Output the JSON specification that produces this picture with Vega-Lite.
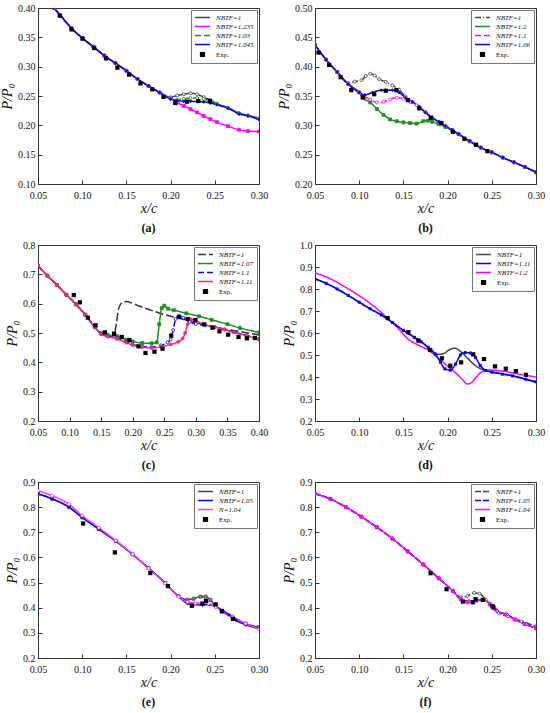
{
  "$schema": "https://vega.github.io/schema/vega-lite/v6.json",
  "background": "white",
  "padding": {"left": 0, "top": 2, "right": 4, "bottom": 2},
  "columns": 2,
  "spacing": {"row": 4, "column": 8},
  "datasets": {
    "a": [
      {"s": "NBTF=1", "x": 0.068, "y": 0.4}, {"s": "NBTF=1", "x": 0.075, "y": 0.388}, {"s": "NBTF=1", "x": 0.0875, "y": 0.366}, {"s": "NBTF=1", "x": 0.1, "y": 0.349}, {"s": "NBTF=1", "x": 0.1125, "y": 0.334}, {"s": "NBTF=1", "x": 0.125, "y": 0.319}, {"s": "NBTF=1", "x": 0.1375, "y": 0.306}, {"s": "NBTF=1", "x": 0.15, "y": 0.293}, {"s": "NBTF=1", "x": 0.1625, "y": 0.279}, {"s": "NBTF=1", "x": 0.175, "y": 0.267}, {"s": "NBTF=1", "x": 0.1875, "y": 0.256}, {"s": "NBTF=1", "x": 0.2, "y": 0.248},
      {"s": "NBTF=1", "x": 0.2075, "y": 0.251}, {"s": "NBTF=1", "x": 0.215, "y": 0.253}, {"s": "NBTF=1", "x": 0.2225, "y": 0.2545}, {"s": "NBTF=1", "x": 0.23, "y": 0.253}, {"s": "NBTF=1", "x": 0.2375, "y": 0.248}, {"s": "NBTF=1", "x": 0.245, "y": 0.243}, {"s": "NBTF=1", "x": 0.2525, "y": 0.237}, {"s": "NBTF=1", "x": 0.265, "y": 0.23}, {"s": "NBTF=1", "x": 0.2775, "y": 0.221}, {"s": "NBTF=1", "x": 0.2875, "y": 0.217}, {"s": "NBTF=1", "x": 0.3, "y": 0.212},
      {"s": "NBTF=1.235", "x": 0.068, "y": 0.4}, {"s": "NBTF=1.235", "x": 0.075, "y": 0.388}, {"s": "NBTF=1.235", "x": 0.0875, "y": 0.366}, {"s": "NBTF=1.235", "x": 0.1, "y": 0.349}, {"s": "NBTF=1.235", "x": 0.1125, "y": 0.334}, {"s": "NBTF=1.235", "x": 0.125, "y": 0.319}, {"s": "NBTF=1.235", "x": 0.1375, "y": 0.306}, {"s": "NBTF=1.235", "x": 0.15, "y": 0.293}, {"s": "NBTF=1.235", "x": 0.1625, "y": 0.279}, {"s": "NBTF=1.235", "x": 0.175, "y": 0.267}, {"s": "NBTF=1.235", "x": 0.1875, "y": 0.256}, {"s": "NBTF=1.235", "x": 0.2, "y": 0.246},
      {"s": "NBTF=1.235", "x": 0.2075, "y": 0.239}, {"s": "NBTF=1.235", "x": 0.215, "y": 0.233}, {"s": "NBTF=1.235", "x": 0.2225, "y": 0.2275}, {"s": "NBTF=1.235", "x": 0.23, "y": 0.222}, {"s": "NBTF=1.235", "x": 0.2375, "y": 0.216}, {"s": "NBTF=1.235", "x": 0.245, "y": 0.2105}, {"s": "NBTF=1.235", "x": 0.2525, "y": 0.2055}, {"s": "NBTF=1.235", "x": 0.265, "y": 0.1985}, {"s": "NBTF=1.235", "x": 0.2775, "y": 0.1925}, {"s": "NBTF=1.235", "x": 0.2875, "y": 0.19}, {"s": "NBTF=1.235", "x": 0.3, "y": 0.1895},
      {"s": "NBTF=1.03", "x": 0.068, "y": 0.4}, {"s": "NBTF=1.03", "x": 0.075, "y": 0.388}, {"s": "NBTF=1.03", "x": 0.0875, "y": 0.366}, {"s": "NBTF=1.03", "x": 0.1, "y": 0.349}, {"s": "NBTF=1.03", "x": 0.1125, "y": 0.334}, {"s": "NBTF=1.03", "x": 0.125, "y": 0.319}, {"s": "NBTF=1.03", "x": 0.1375, "y": 0.306}, {"s": "NBTF=1.03", "x": 0.15, "y": 0.293}, {"s": "NBTF=1.03", "x": 0.1625, "y": 0.279}, {"s": "NBTF=1.03", "x": 0.175, "y": 0.267}, {"s": "NBTF=1.03", "x": 0.1875, "y": 0.256}, {"s": "NBTF=1.03", "x": 0.2, "y": 0.246},
      {"s": "NBTF=1.03", "x": 0.2075, "y": 0.244}, {"s": "NBTF=1.03", "x": 0.215, "y": 0.245}, {"s": "NBTF=1.03", "x": 0.2225, "y": 0.2465}, {"s": "NBTF=1.03", "x": 0.23, "y": 0.2465}, {"s": "NBTF=1.03", "x": 0.2375, "y": 0.245}, {"s": "NBTF=1.03", "x": 0.245, "y": 0.241}, {"s": "NBTF=1.03", "x": 0.2525, "y": 0.236}, {"s": "NBTF=1.03", "x": 0.265, "y": 0.2295}, {"s": "NBTF=1.03", "x": 0.2775, "y": 0.2195}, {"s": "NBTF=1.03", "x": 0.2875, "y": 0.2165}, {"s": "NBTF=1.03", "x": 0.3, "y": 0.2105},
      {"s": "NBTF=1.045", "x": 0.068, "y": 0.4}, {"s": "NBTF=1.045", "x": 0.075, "y": 0.388}, {"s": "NBTF=1.045", "x": 0.0875, "y": 0.366}, {"s": "NBTF=1.045", "x": 0.1, "y": 0.349}, {"s": "NBTF=1.045", "x": 0.1125, "y": 0.334}, {"s": "NBTF=1.045", "x": 0.125, "y": 0.319}, {"s": "NBTF=1.045", "x": 0.1375, "y": 0.306}, {"s": "NBTF=1.045", "x": 0.15, "y": 0.293}, {"s": "NBTF=1.045", "x": 0.1625, "y": 0.279}, {"s": "NBTF=1.045", "x": 0.175, "y": 0.267}, {"s": "NBTF=1.045", "x": 0.1875, "y": 0.256}, {"s": "NBTF=1.045", "x": 0.2, "y": 0.245},
      {"s": "NBTF=1.045", "x": 0.2075, "y": 0.2425}, {"s": "NBTF=1.045", "x": 0.215, "y": 0.241}, {"s": "NBTF=1.045", "x": 0.2225, "y": 0.241}, {"s": "NBTF=1.045", "x": 0.23, "y": 0.2405}, {"s": "NBTF=1.045", "x": 0.2375, "y": 0.24}, {"s": "NBTF=1.045", "x": 0.245, "y": 0.238}, {"s": "NBTF=1.045", "x": 0.2525, "y": 0.235}, {"s": "NBTF=1.045", "x": 0.265, "y": 0.229}, {"s": "NBTF=1.045", "x": 0.2775, "y": 0.2195}, {"s": "NBTF=1.045", "x": 0.2875, "y": 0.216}, {"s": "NBTF=1.045", "x": 0.3, "y": 0.21},
      {"s": "Exp.", "x": 0.0746, "y": 0.3869}, {"s": "Exp.", "x": 0.0879, "y": 0.3636}, {"s": "Exp.", "x": 0.1004, "y": 0.3477}, {"s": "Exp.", "x": 0.1136, "y": 0.3318}, {"s": "Exp.", "x": 0.1269, "y": 0.3142}, {"s": "Exp.", "x": 0.1398, "y": 0.2983}, {"s": "Exp.", "x": 0.153, "y": 0.2864}, {"s": "Exp.", "x": 0.1659, "y": 0.2716}, {"s": "Exp.", "x": 0.1792, "y": 0.2614}, {"s": "Exp.", "x": 0.192, "y": 0.2483}, {"s": "Exp.", "x": 0.2053, "y": 0.2381}, {"s": "Exp.", "x": 0.2186, "y": 0.2403}, {"s": "Exp.", "x": 0.2314, "y": 0.2415}, {"s": "Exp.", "x": 0.2443, "y": 0.2415}
    ],
    "b": [
      {"s": "NBTF=1", "x": 0.05, "y": 0.437}, {"s": "NBTF=1", "x": 0.0625, "y": 0.412}, {"s": "NBTF=1", "x": 0.075, "y": 0.391}, {"s": "NBTF=1", "x": 0.0875, "y": 0.372}, {"s": "NBTF=1", "x": 0.095, "y": 0.3745}, {"s": "NBTF=1", "x": 0.1025, "y": 0.377}, {"s": "NBTF=1", "x": 0.1075, "y": 0.384}, {"s": "NBTF=1", "x": 0.1125, "y": 0.388}, {"s": "NBTF=1", "x": 0.1175, "y": 0.385}, {"s": "NBTF=1", "x": 0.1225, "y": 0.379}, {"s": "NBTF=1", "x": 0.13, "y": 0.374}, {"s": "NBTF=1", "x": 0.1375, "y": 0.368}, {"s": "NBTF=1", "x": 0.145, "y": 0.361}, {"s": "NBTF=1", "x": 0.1525, "y": 0.349}, {"s": "NBTF=1", "x": 0.16, "y": 0.34}, {"s": "NBTF=1", "x": 0.1675, "y": 0.332}, {"s": "NBTF=1", "x": 0.175, "y": 0.322}, {"s": "NBTF=1", "x": 0.1825, "y": 0.313}, {"s": "NBTF=1", "x": 0.19, "y": 0.306}, {"s": "NBTF=1", "x": 0.1975, "y": 0.299}, {"s": "NBTF=1", "x": 0.205, "y": 0.292}, {"s": "NBTF=1", "x": 0.2125, "y": 0.285}, {"s": "NBTF=1", "x": 0.225, "y": 0.273}, {"s": "NBTF=1", "x": 0.2375, "y": 0.262}, {"s": "NBTF=1", "x": 0.25, "y": 0.254}, {"s": "NBTF=1", "x": 0.2625, "y": 0.245}, {"s": "NBTF=1", "x": 0.275, "y": 0.237}, {"s": "NBTF=1", "x": 0.2875, "y": 0.229}, {"s": "NBTF=1", "x": 0.3, "y": 0.22},
      {"s": "NBTF=1.2", "x": 0.05, "y": 0.437}, {"s": "NBTF=1.2", "x": 0.0625, "y": 0.412}, {"s": "NBTF=1.2", "x": 0.075, "y": 0.391}, {"s": "NBTF=1.2", "x": 0.0875, "y": 0.371}, {"s": "NBTF=1.2", "x": 0.1, "y": 0.356}, {"s": "NBTF=1.2", "x": 0.105, "y": 0.346}, {"s": "NBTF=1.2", "x": 0.1125, "y": 0.339}, {"s": "NBTF=1.2", "x": 0.12, "y": 0.328}, {"s": "NBTF=1.2", "x": 0.1275, "y": 0.318}, {"s": "NBTF=1.2", "x": 0.135, "y": 0.31}, {"s": "NBTF=1.2", "x": 0.1425, "y": 0.307}, {"s": "NBTF=1.2", "x": 0.15, "y": 0.305}, {"s": "NBTF=1.2", "x": 0.1575, "y": 0.304}, {"s": "NBTF=1.2", "x": 0.165, "y": 0.303}, {"s": "NBTF=1.2", "x": 0.1725, "y": 0.307}, {"s": "NBTF=1.2", "x": 0.1775, "y": 0.308}, {"s": "NBTF=1.2", "x": 0.1825, "y": 0.306}, {"s": "NBTF=1.2", "x": 0.19, "y": 0.302}, {"s": "NBTF=1.2", "x": 0.1975, "y": 0.297}, {"s": "NBTF=1.2", "x": 0.205, "y": 0.292}, {"s": "NBTF=1.2", "x": 0.2125, "y": 0.285}, {"s": "NBTF=1.2", "x": 0.225, "y": 0.273}, {"s": "NBTF=1.2", "x": 0.2375, "y": 0.262}, {"s": "NBTF=1.2", "x": 0.25, "y": 0.254}, {"s": "NBTF=1.2", "x": 0.2625, "y": 0.245}, {"s": "NBTF=1.2", "x": 0.275, "y": 0.237}, {"s": "NBTF=1.2", "x": 0.2875, "y": 0.229}, {"s": "NBTF=1.2", "x": 0.3, "y": 0.22},
      {"s": "NBTF=1.1", "x": 0.05, "y": 0.437}, {"s": "NBTF=1.1", "x": 0.0625, "y": 0.412}, {"s": "NBTF=1.1", "x": 0.075, "y": 0.391}, {"s": "NBTF=1.1", "x": 0.0875, "y": 0.371}, {"s": "NBTF=1.1", "x": 0.1, "y": 0.356}, {"s": "NBTF=1.1", "x": 0.105, "y": 0.35}, {"s": "NBTF=1.1", "x": 0.1125, "y": 0.344}, {"s": "NBTF=1.1", "x": 0.12, "y": 0.339}, {"s": "NBTF=1.1", "x": 0.1275, "y": 0.34}, {"s": "NBTF=1.1", "x": 0.135, "y": 0.344}, {"s": "NBTF=1.1", "x": 0.1425, "y": 0.347}, {"s": "NBTF=1.1", "x": 0.15, "y": 0.345}, {"s": "NBTF=1.1", "x": 0.1575, "y": 0.34}, {"s": "NBTF=1.1", "x": 0.165, "y": 0.334}, {"s": "NBTF=1.1", "x": 0.175, "y": 0.322}, {"s": "NBTF=1.1", "x": 0.1825, "y": 0.313}, {"s": "NBTF=1.1", "x": 0.19, "y": 0.306}, {"s": "NBTF=1.1", "x": 0.1975, "y": 0.299}, {"s": "NBTF=1.1", "x": 0.205, "y": 0.292}, {"s": "NBTF=1.1", "x": 0.2125, "y": 0.285}, {"s": "NBTF=1.1", "x": 0.225, "y": 0.273}, {"s": "NBTF=1.1", "x": 0.2375, "y": 0.262}, {"s": "NBTF=1.1", "x": 0.25, "y": 0.254}, {"s": "NBTF=1.1", "x": 0.2625, "y": 0.245}, {"s": "NBTF=1.1", "x": 0.275, "y": 0.237}, {"s": "NBTF=1.1", "x": 0.2875, "y": 0.229}, {"s": "NBTF=1.1", "x": 0.3, "y": 0.22},
      {"s": "NBTF=1.06", "x": 0.05, "y": 0.437}, {"s": "NBTF=1.06", "x": 0.0625, "y": 0.412}, {"s": "NBTF=1.06", "x": 0.075, "y": 0.391}, {"s": "NBTF=1.06", "x": 0.0875, "y": 0.37}, {"s": "NBTF=1.06", "x": 0.1, "y": 0.356}, {"s": "NBTF=1.06", "x": 0.1065, "y": 0.352}, {"s": "NBTF=1.06", "x": 0.115, "y": 0.356}, {"s": "NBTF=1.06", "x": 0.125, "y": 0.36}, {"s": "NBTF=1.06", "x": 0.1375, "y": 0.36}, {"s": "NBTF=1.06", "x": 0.145, "y": 0.356}, {"s": "NBTF=1.06", "x": 0.1525, "y": 0.347}, {"s": "NBTF=1.06", "x": 0.16, "y": 0.34}, {"s": "NBTF=1.06", "x": 0.1675, "y": 0.332}, {"s": "NBTF=1.06", "x": 0.175, "y": 0.322}, {"s": "NBTF=1.06", "x": 0.1825, "y": 0.313}, {"s": "NBTF=1.06", "x": 0.19, "y": 0.306}, {"s": "NBTF=1.06", "x": 0.1975, "y": 0.299}, {"s": "NBTF=1.06", "x": 0.205, "y": 0.292}, {"s": "NBTF=1.06", "x": 0.2125, "y": 0.285}, {"s": "NBTF=1.06", "x": 0.225, "y": 0.273}, {"s": "NBTF=1.06", "x": 0.2375, "y": 0.262}, {"s": "NBTF=1.06", "x": 0.25, "y": 0.254}, {"s": "NBTF=1.06", "x": 0.2625, "y": 0.245}, {"s": "NBTF=1.06", "x": 0.275, "y": 0.237}, {"s": "NBTF=1.06", "x": 0.2875, "y": 0.229}, {"s": "NBTF=1.06", "x": 0.3, "y": 0.22},
      {"s": "Exp.", "x": 0.054, "y": 0.424}, {"s": "Exp.", "x": 0.066, "y": 0.403}, {"s": "Exp.", "x": 0.079, "y": 0.382}, {"s": "Exp.", "x": 0.091, "y": 0.36}, {"s": "Exp.", "x": 0.104, "y": 0.348}, {"s": "Exp.", "x": 0.117, "y": 0.353}, {"s": "Exp.", "x": 0.13, "y": 0.359}, {"s": "Exp.", "x": 0.142, "y": 0.36}, {"s": "Exp.", "x": 0.155, "y": 0.343}, {"s": "Exp.", "x": 0.168, "y": 0.329}, {"s": "Exp.", "x": 0.181, "y": 0.313}, {"s": "Exp.", "x": 0.193, "y": 0.304}, {"s": "Exp.", "x": 0.206, "y": 0.289}, {"s": "Exp.", "x": 0.219, "y": 0.277}, {"s": "Exp.", "x": 0.232, "y": 0.267}, {"s": "Exp.", "x": 0.245, "y": 0.256}
    ],
    "c": [
      {"s": "NBTF=1", "x": 0.05, "y": 0.729}, {"s": "NBTF=1", "x": 0.065, "y": 0.695}, {"s": "NBTF=1", "x": 0.08, "y": 0.664}, {"s": "NBTF=1", "x": 0.095, "y": 0.63}, {"s": "NBTF=1", "x": 0.11, "y": 0.598}, {"s": "NBTF=1", "x": 0.125, "y": 0.562}, {"s": "NBTF=1", "x": 0.14, "y": 0.52}, {"s": "NBTF=1", "x": 0.15, "y": 0.498}, {"s": "NBTF=1", "x": 0.16, "y": 0.492}, {"s": "NBTF=1", "x": 0.17, "y": 0.49}, {"s": "NBTF=1", "x": 0.174, "y": 0.53}, {"s": "NBTF=1", "x": 0.178, "y": 0.585}, {"s": "NBTF=1", "x": 0.184, "y": 0.605}, {"s": "NBTF=1", "x": 0.19, "y": 0.607}, {"s": "NBTF=1", "x": 0.2, "y": 0.601}, {"s": "NBTF=1", "x": 0.21, "y": 0.592}, {"s": "NBTF=1", "x": 0.23, "y": 0.577}, {"s": "NBTF=1", "x": 0.25, "y": 0.563}, {"s": "NBTF=1", "x": 0.27, "y": 0.552}, {"s": "NBTF=1", "x": 0.29, "y": 0.541}, {"s": "NBTF=1", "x": 0.31, "y": 0.53}, {"s": "NBTF=1", "x": 0.33, "y": 0.521}, {"s": "NBTF=1", "x": 0.35, "y": 0.512}, {"s": "NBTF=1", "x": 0.37, "y": 0.505}, {"s": "NBTF=1", "x": 0.4, "y": 0.493},
      {"s": "NBTF=1.07", "x": 0.05, "y": 0.729}, {"s": "NBTF=1.07", "x": 0.065, "y": 0.695}, {"s": "NBTF=1.07", "x": 0.08, "y": 0.664}, {"s": "NBTF=1.07", "x": 0.095, "y": 0.63}, {"s": "NBTF=1.07", "x": 0.11, "y": 0.598}, {"s": "NBTF=1.07", "x": 0.125, "y": 0.562}, {"s": "NBTF=1.07", "x": 0.14, "y": 0.52}, {"s": "NBTF=1.07", "x": 0.15, "y": 0.5}, {"s": "NBTF=1.07", "x": 0.16, "y": 0.494}, {"s": "NBTF=1.07", "x": 0.175, "y": 0.489}, {"s": "NBTF=1.07", "x": 0.19, "y": 0.477}, {"s": "NBTF=1.07", "x": 0.2, "y": 0.471}, {"s": "NBTF=1.07", "x": 0.215, "y": 0.466}, {"s": "NBTF=1.07", "x": 0.23, "y": 0.465}, {"s": "NBTF=1.07", "x": 0.238, "y": 0.468}, {"s": "NBTF=1.07", "x": 0.242, "y": 0.53}, {"s": "NBTF=1.07", "x": 0.246, "y": 0.585}, {"s": "NBTF=1.07", "x": 0.25, "y": 0.593}, {"s": "NBTF=1.07", "x": 0.256, "y": 0.583}, {"s": "NBTF=1.07", "x": 0.265, "y": 0.578}, {"s": "NBTF=1.07", "x": 0.285, "y": 0.567}, {"s": "NBTF=1.07", "x": 0.305, "y": 0.557}, {"s": "NBTF=1.07", "x": 0.325, "y": 0.545}, {"s": "NBTF=1.07", "x": 0.35, "y": 0.53}, {"s": "NBTF=1.07", "x": 0.37, "y": 0.517}, {"s": "NBTF=1.07", "x": 0.4, "y": 0.502},
      {"s": "NBTF=1.1", "x": 0.05, "y": 0.729}, {"s": "NBTF=1.1", "x": 0.065, "y": 0.695}, {"s": "NBTF=1.1", "x": 0.08, "y": 0.664}, {"s": "NBTF=1.1", "x": 0.095, "y": 0.63}, {"s": "NBTF=1.1", "x": 0.11, "y": 0.598}, {"s": "NBTF=1.1", "x": 0.125, "y": 0.562}, {"s": "NBTF=1.1", "x": 0.14, "y": 0.52}, {"s": "NBTF=1.1", "x": 0.15, "y": 0.496}, {"s": "NBTF=1.1", "x": 0.16, "y": 0.489}, {"s": "NBTF=1.1", "x": 0.175, "y": 0.482}, {"s": "NBTF=1.1", "x": 0.19, "y": 0.47}, {"s": "NBTF=1.1", "x": 0.2, "y": 0.461}, {"s": "NBTF=1.1", "x": 0.215, "y": 0.454}, {"s": "NBTF=1.1", "x": 0.23, "y": 0.452}, {"s": "NBTF=1.1", "x": 0.245, "y": 0.458}, {"s": "NBTF=1.1", "x": 0.255, "y": 0.468}, {"s": "NBTF=1.1", "x": 0.26, "y": 0.478}, {"s": "NBTF=1.1", "x": 0.264, "y": 0.51}, {"s": "NBTF=1.1", "x": 0.268, "y": 0.548}, {"s": "NBTF=1.1", "x": 0.273, "y": 0.559}, {"s": "NBTF=1.1", "x": 0.28, "y": 0.552}, {"s": "NBTF=1.1", "x": 0.29, "y": 0.538}, {"s": "NBTF=1.1", "x": 0.3, "y": 0.531}, {"s": "NBTF=1.1", "x": 0.315, "y": 0.526}, {"s": "NBTF=1.1", "x": 0.33, "y": 0.52}, {"s": "NBTF=1.1", "x": 0.345, "y": 0.512}, {"s": "NBTF=1.1", "x": 0.36, "y": 0.503}, {"s": "NBTF=1.1", "x": 0.38, "y": 0.492}, {"s": "NBTF=1.1", "x": 0.4, "y": 0.48},
      {"s": "NBTF=1.11", "x": 0.05, "y": 0.729}, {"s": "NBTF=1.11", "x": 0.065, "y": 0.695}, {"s": "NBTF=1.11", "x": 0.08, "y": 0.664}, {"s": "NBTF=1.11", "x": 0.095, "y": 0.63}, {"s": "NBTF=1.11", "x": 0.11, "y": 0.598}, {"s": "NBTF=1.11", "x": 0.125, "y": 0.562}, {"s": "NBTF=1.11", "x": 0.14, "y": 0.52}, {"s": "NBTF=1.11", "x": 0.15, "y": 0.496}, {"s": "NBTF=1.11", "x": 0.16, "y": 0.488}, {"s": "NBTF=1.11", "x": 0.175, "y": 0.48}, {"s": "NBTF=1.11", "x": 0.19, "y": 0.467}, {"s": "NBTF=1.11", "x": 0.2, "y": 0.459}, {"s": "NBTF=1.11", "x": 0.215, "y": 0.452}, {"s": "NBTF=1.11", "x": 0.23, "y": 0.449}, {"s": "NBTF=1.11", "x": 0.245, "y": 0.453}, {"s": "NBTF=1.11", "x": 0.26, "y": 0.461}, {"s": "NBTF=1.11", "x": 0.272, "y": 0.47}, {"s": "NBTF=1.11", "x": 0.279, "y": 0.481}, {"s": "NBTF=1.11", "x": 0.283, "y": 0.5}, {"s": "NBTF=1.11", "x": 0.287, "y": 0.53}, {"s": "NBTF=1.11", "x": 0.292, "y": 0.547}, {"s": "NBTF=1.11", "x": 0.3, "y": 0.541}, {"s": "NBTF=1.11", "x": 0.315, "y": 0.528}, {"s": "NBTF=1.11", "x": 0.33, "y": 0.52}, {"s": "NBTF=1.11", "x": 0.345, "y": 0.512}, {"s": "NBTF=1.11", "x": 0.36, "y": 0.502}, {"s": "NBTF=1.11", "x": 0.38, "y": 0.491}, {"s": "NBTF=1.11", "x": 0.4, "y": 0.477},
      {"s": "Exp.", "x": 0.1067, "y": 0.6295}, {"s": "Exp.", "x": 0.1163, "y": 0.6045}, {"s": "Exp.", "x": 0.129, "y": 0.5523}, {"s": "Exp.", "x": 0.1412, "y": 0.5261}, {"s": "Exp.", "x": 0.156, "y": 0.5023}, {"s": "Exp.", "x": 0.1704, "y": 0.4977}, {"s": "Exp.", "x": 0.1826, "y": 0.4864}, {"s": "Exp.", "x": 0.1948, "y": 0.4761}, {"s": "Exp.", "x": 0.2091, "y": 0.4545}, {"s": "Exp.", "x": 0.2202, "y": 0.4318}, {"s": "Exp.", "x": 0.2345, "y": 0.4364}, {"s": "Exp.", "x": 0.2472, "y": 0.4466}, {"s": "Exp.", "x": 0.261, "y": 0.4909}, {"s": "Exp.", "x": 0.2738, "y": 0.5545}, {"s": "Exp.", "x": 0.287, "y": 0.5477}, {"s": "Exp.", "x": 0.2992, "y": 0.5443}, {"s": "Exp.", "x": 0.313, "y": 0.5295}, {"s": "Exp.", "x": 0.3262, "y": 0.5182}, {"s": "Exp.", "x": 0.3374, "y": 0.5057}, {"s": "Exp.", "x": 0.3512, "y": 0.4943}, {"s": "Exp.", "x": 0.3676, "y": 0.4864}, {"s": "Exp.", "x": 0.3808, "y": 0.4818}, {"s": "Exp.", "x": 0.3936, "y": 0.483}
    ],
    "d": [
      {"s": "NBTF=1.2", "x": 0.05, "y": 0.873}, {"s": "NBTF=1.2", "x": 0.068, "y": 0.845}, {"s": "NBTF=1.2", "x": 0.087, "y": 0.802}, {"s": "NBTF=1.2", "x": 0.106, "y": 0.753}, {"s": "NBTF=1.2", "x": 0.121, "y": 0.707}, {"s": "NBTF=1.2", "x": 0.133, "y": 0.664}, {"s": "NBTF=1.2", "x": 0.144, "y": 0.621}, {"s": "NBTF=1.2", "x": 0.156, "y": 0.57}, {"s": "NBTF=1.2", "x": 0.167, "y": 0.545}, {"s": "NBTF=1.2", "x": 0.178, "y": 0.522}, {"s": "NBTF=1.2", "x": 0.19, "y": 0.484}, {"s": "NBTF=1.2", "x": 0.201, "y": 0.446}, {"s": "NBTF=1.2", "x": 0.212, "y": 0.408}, {"s": "NBTF=1.2", "x": 0.218, "y": 0.383}, {"s": "NBTF=1.2", "x": 0.222, "y": 0.368}, {"s": "NBTF=1.2", "x": 0.226, "y": 0.372}, {"s": "NBTF=1.2", "x": 0.231, "y": 0.392}, {"s": "NBTF=1.2", "x": 0.237, "y": 0.419}, {"s": "NBTF=1.2", "x": 0.245, "y": 0.432}, {"s": "NBTF=1.2", "x": 0.262, "y": 0.427}, {"s": "NBTF=1.2", "x": 0.281, "y": 0.413}, {"s": "NBTF=1.2", "x": 0.3, "y": 0.4},
      {"s": "NBTF=1", "x": 0.05, "y": 0.846}, {"s": "NBTF=1", "x": 0.0625, "y": 0.826}, {"s": "NBTF=1", "x": 0.075, "y": 0.8}, {"s": "NBTF=1", "x": 0.0875, "y": 0.771}, {"s": "NBTF=1", "x": 0.1, "y": 0.74}, {"s": "NBTF=1", "x": 0.1125, "y": 0.71}, {"s": "NBTF=1", "x": 0.125, "y": 0.682}, {"s": "NBTF=1", "x": 0.1375, "y": 0.648}, {"s": "NBTF=1", "x": 0.15, "y": 0.612}, {"s": "NBTF=1", "x": 0.1625, "y": 0.58}, {"s": "NBTF=1", "x": 0.17, "y": 0.56}, {"s": "NBTF=1", "x": 0.178, "y": 0.535}, {"s": "NBTF=1", "x": 0.184, "y": 0.51}, {"s": "NBTF=1", "x": 0.19, "y": 0.503}, {"s": "NBTF=1", "x": 0.196, "y": 0.507}, {"s": "NBTF=1", "x": 0.2025, "y": 0.525}, {"s": "NBTF=1", "x": 0.208, "y": 0.531}, {"s": "NBTF=1", "x": 0.215, "y": 0.515}, {"s": "NBTF=1", "x": 0.222, "y": 0.488}, {"s": "NBTF=1", "x": 0.23, "y": 0.456}, {"s": "NBTF=1", "x": 0.237, "y": 0.438}, {"s": "NBTF=1", "x": 0.245, "y": 0.428}, {"s": "NBTF=1", "x": 0.258, "y": 0.418}, {"s": "NBTF=1", "x": 0.277, "y": 0.402}, {"s": "NBTF=1", "x": 0.3, "y": 0.375},
      {"s": "NBTF=1.11", "x": 0.05, "y": 0.846}, {"s": "NBTF=1.11", "x": 0.0625, "y": 0.826}, {"s": "NBTF=1.11", "x": 0.075, "y": 0.8}, {"s": "NBTF=1.11", "x": 0.0875, "y": 0.771}, {"s": "NBTF=1.11", "x": 0.1, "y": 0.74}, {"s": "NBTF=1.11", "x": 0.1125, "y": 0.71}, {"s": "NBTF=1.11", "x": 0.125, "y": 0.682}, {"s": "NBTF=1.11", "x": 0.1375, "y": 0.648}, {"s": "NBTF=1.11", "x": 0.15, "y": 0.612}, {"s": "NBTF=1.11", "x": 0.1625, "y": 0.58}, {"s": "NBTF=1.11", "x": 0.17, "y": 0.56}, {"s": "NBTF=1.11", "x": 0.178, "y": 0.535}, {"s": "NBTF=1.11", "x": 0.186, "y": 0.505}, {"s": "NBTF=1.11", "x": 0.192, "y": 0.467}, {"s": "NBTF=1.11", "x": 0.197, "y": 0.437}, {"s": "NBTF=1.11", "x": 0.203, "y": 0.431}, {"s": "NBTF=1.11", "x": 0.209, "y": 0.459}, {"s": "NBTF=1.11", "x": 0.2145, "y": 0.5}, {"s": "NBTF=1.11", "x": 0.22, "y": 0.511}, {"s": "NBTF=1.11", "x": 0.226, "y": 0.509}, {"s": "NBTF=1.11", "x": 0.2315, "y": 0.489}, {"s": "NBTF=1.11", "x": 0.237, "y": 0.452}, {"s": "NBTF=1.11", "x": 0.243, "y": 0.43}, {"s": "NBTF=1.11", "x": 0.25, "y": 0.422}, {"s": "NBTF=1.11", "x": 0.262, "y": 0.413}, {"s": "NBTF=1.11", "x": 0.2735, "y": 0.405}, {"s": "NBTF=1.11", "x": 0.2885, "y": 0.39}, {"s": "NBTF=1.11", "x": 0.3, "y": 0.378},
      {"s": "Exp.", "x": 0.1321, "y": 0.6677}, {"s": "Exp.", "x": 0.1556, "y": 0.6037}, {"s": "Exp.", "x": 0.167, "y": 0.5655}, {"s": "Exp.", "x": 0.1803, "y": 0.5229}, {"s": "Exp.", "x": 0.1936, "y": 0.4848}, {"s": "Exp.", "x": 0.2031, "y": 0.4512}, {"s": "Exp.", "x": 0.2153, "y": 0.4665}, {"s": "Exp.", "x": 0.229, "y": 0.503}, {"s": "Exp.", "x": 0.2411, "y": 0.4817}, {"s": "Exp.", "x": 0.2536, "y": 0.4482}, {"s": "Exp.", "x": 0.2658, "y": 0.4375}, {"s": "Exp.", "x": 0.2772, "y": 0.4268}, {"s": "Exp.", "x": 0.2886, "y": 0.41}
    ],
    "e": [
      {"s": "NBTF=1", "x": 0.05, "y": 0.853}, {"s": "NBTF=1", "x": 0.066, "y": 0.833}, {"s": "NBTF=1", "x": 0.085, "y": 0.8}, {"s": "NBTF=1", "x": 0.1, "y": 0.759}, {"s": "NBTF=1", "x": 0.119, "y": 0.712}, {"s": "NBTF=1", "x": 0.138, "y": 0.665}, {"s": "NBTF=1", "x": 0.157, "y": 0.612}, {"s": "NBTF=1", "x": 0.175, "y": 0.558}, {"s": "NBTF=1", "x": 0.194, "y": 0.498}, {"s": "NBTF=1", "x": 0.209, "y": 0.446}, {"s": "NBTF=1", "x": 0.219, "y": 0.432}, {"s": "NBTF=1", "x": 0.226, "y": 0.436}, {"s": "NBTF=1", "x": 0.234, "y": 0.444}, {"s": "NBTF=1", "x": 0.2395, "y": 0.444}, {"s": "NBTF=1", "x": 0.245, "y": 0.431}, {"s": "NBTF=1", "x": 0.251, "y": 0.406}, {"s": "NBTF=1", "x": 0.2585, "y": 0.385}, {"s": "NBTF=1", "x": 0.27, "y": 0.364}, {"s": "NBTF=1", "x": 0.285, "y": 0.337}, {"s": "NBTF=1", "x": 0.3, "y": 0.323},
      {"s": "NBTF=1.05", "x": 0.05, "y": 0.853}, {"s": "NBTF=1.05", "x": 0.066, "y": 0.833}, {"s": "NBTF=1.05", "x": 0.085, "y": 0.8}, {"s": "NBTF=1.05", "x": 0.1, "y": 0.759}, {"s": "NBTF=1.05", "x": 0.119, "y": 0.712}, {"s": "NBTF=1.05", "x": 0.138, "y": 0.665}, {"s": "NBTF=1.05", "x": 0.157, "y": 0.612}, {"s": "NBTF=1.05", "x": 0.175, "y": 0.558}, {"s": "NBTF=1.05", "x": 0.194, "y": 0.498}, {"s": "NBTF=1.05", "x": 0.209, "y": 0.444}, {"s": "NBTF=1.05", "x": 0.219, "y": 0.417}, {"s": "NBTF=1.05", "x": 0.226, "y": 0.412}, {"s": "NBTF=1.05", "x": 0.236, "y": 0.411}, {"s": "NBTF=1.05", "x": 0.243, "y": 0.413}, {"s": "NBTF=1.05", "x": 0.251, "y": 0.404}, {"s": "NBTF=1.05", "x": 0.2585, "y": 0.39}, {"s": "NBTF=1.05", "x": 0.266, "y": 0.372}, {"s": "NBTF=1.05", "x": 0.274, "y": 0.35}, {"s": "NBTF=1.05", "x": 0.285, "y": 0.332}, {"s": "NBTF=1.05", "x": 0.3, "y": 0.317},
      {"s": "N=1.04", "x": 0.05, "y": 0.866}, {"s": "N=1.04", "x": 0.066, "y": 0.845}, {"s": "N=1.04", "x": 0.085, "y": 0.812}, {"s": "N=1.04", "x": 0.1, "y": 0.766}, {"s": "N=1.04", "x": 0.119, "y": 0.718}, {"s": "N=1.04", "x": 0.138, "y": 0.667}, {"s": "N=1.04", "x": 0.157, "y": 0.613}, {"s": "N=1.04", "x": 0.175, "y": 0.557}, {"s": "N=1.04", "x": 0.194, "y": 0.497}, {"s": "N=1.04", "x": 0.209, "y": 0.444}, {"s": "N=1.04", "x": 0.219, "y": 0.423}, {"s": "N=1.04", "x": 0.228, "y": 0.418}, {"s": "N=1.04", "x": 0.236, "y": 0.42}, {"s": "N=1.04", "x": 0.243, "y": 0.417}, {"s": "N=1.04", "x": 0.251, "y": 0.404}, {"s": "N=1.04", "x": 0.2585, "y": 0.382}, {"s": "N=1.04", "x": 0.27, "y": 0.364}, {"s": "N=1.04", "x": 0.285, "y": 0.337}, {"s": "N=1.04", "x": 0.3, "y": 0.314},
      {"s": "Exp.", "x": 0.101, "y": 0.735}, {"s": "Exp.", "x": 0.137, "y": 0.62}, {"s": "Exp.", "x": 0.177, "y": 0.538}, {"s": "Exp.", "x": 0.197, "y": 0.486}, {"s": "Exp.", "x": 0.224, "y": 0.408}, {"s": "Exp.", "x": 0.236, "y": 0.416}, {"s": "Exp.", "x": 0.24, "y": 0.427}, {"s": "Exp.", "x": 0.251, "y": 0.413}, {"s": "Exp.", "x": 0.258, "y": 0.386}, {"s": "Exp.", "x": 0.2705, "y": 0.356}
    ],
    "f": [
      {"s": "NBTF=1", "x": 0.05, "y": 0.8535}, {"s": "NBTF=1", "x": 0.0675, "y": 0.832}, {"s": "NBTF=1", "x": 0.085, "y": 0.8}, {"s": "NBTF=1", "x": 0.1025, "y": 0.762}, {"s": "NBTF=1", "x": 0.12, "y": 0.72}, {"s": "NBTF=1", "x": 0.1375, "y": 0.675}, {"s": "NBTF=1", "x": 0.155, "y": 0.624}, {"s": "NBTF=1", "x": 0.1725, "y": 0.572}, {"s": "NBTF=1", "x": 0.19, "y": 0.517}, {"s": "NBTF=1", "x": 0.206, "y": 0.468}, {"s": "NBTF=1", "x": 0.215, "y": 0.442}, {"s": "NBTF=1", "x": 0.2225, "y": 0.446}, {"s": "NBTF=1", "x": 0.23, "y": 0.459}, {"s": "NBTF=1", "x": 0.236, "y": 0.456}, {"s": "NBTF=1", "x": 0.243, "y": 0.433}, {"s": "NBTF=1", "x": 0.25, "y": 0.406}, {"s": "NBTF=1", "x": 0.2575, "y": 0.38}, {"s": "NBTF=1", "x": 0.2685, "y": 0.366}, {"s": "NBTF=1", "x": 0.2835, "y": 0.346}, {"s": "NBTF=1", "x": 0.3, "y": 0.326},
      {"s": "NBTF=1.05", "x": 0.05, "y": 0.8535}, {"s": "NBTF=1.05", "x": 0.0675, "y": 0.832}, {"s": "NBTF=1.05", "x": 0.085, "y": 0.8}, {"s": "NBTF=1.05", "x": 0.1025, "y": 0.762}, {"s": "NBTF=1.05", "x": 0.12, "y": 0.72}, {"s": "NBTF=1.05", "x": 0.1375, "y": 0.675}, {"s": "NBTF=1.05", "x": 0.155, "y": 0.624}, {"s": "NBTF=1.05", "x": 0.1725, "y": 0.572}, {"s": "NBTF=1.05", "x": 0.19, "y": 0.517}, {"s": "NBTF=1.05", "x": 0.206, "y": 0.466}, {"s": "NBTF=1.05", "x": 0.215, "y": 0.433}, {"s": "NBTF=1.05", "x": 0.224, "y": 0.426}, {"s": "NBTF=1.05", "x": 0.2335, "y": 0.429}, {"s": "NBTF=1.05", "x": 0.241, "y": 0.431}, {"s": "NBTF=1.05", "x": 0.248, "y": 0.413}, {"s": "NBTF=1.05", "x": 0.256, "y": 0.387}, {"s": "NBTF=1.05", "x": 0.267, "y": 0.373}, {"s": "NBTF=1.05", "x": 0.278, "y": 0.353}, {"s": "NBTF=1.05", "x": 0.289, "y": 0.334}, {"s": "NBTF=1.05", "x": 0.3, "y": 0.317},
      {"s": "NBTF=1.04", "x": 0.05, "y": 0.8535}, {"s": "NBTF=1.04", "x": 0.0675, "y": 0.832}, {"s": "NBTF=1.04", "x": 0.085, "y": 0.8}, {"s": "NBTF=1.04", "x": 0.1025, "y": 0.762}, {"s": "NBTF=1.04", "x": 0.12, "y": 0.72}, {"s": "NBTF=1.04", "x": 0.1375, "y": 0.675}, {"s": "NBTF=1.04", "x": 0.155, "y": 0.624}, {"s": "NBTF=1.04", "x": 0.1725, "y": 0.572}, {"s": "NBTF=1.04", "x": 0.19, "y": 0.517}, {"s": "NBTF=1.04", "x": 0.206, "y": 0.466}, {"s": "NBTF=1.04", "x": 0.215, "y": 0.434}, {"s": "NBTF=1.04", "x": 0.2225, "y": 0.422}, {"s": "NBTF=1.04", "x": 0.232, "y": 0.428}, {"s": "NBTF=1.04", "x": 0.241, "y": 0.432}, {"s": "NBTF=1.04", "x": 0.248, "y": 0.413}, {"s": "NBTF=1.04", "x": 0.254, "y": 0.393}, {"s": "NBTF=1.04", "x": 0.265, "y": 0.373}, {"s": "NBTF=1.04", "x": 0.276, "y": 0.353}, {"s": "NBTF=1.04", "x": 0.287, "y": 0.335}, {"s": "NBTF=1.04", "x": 0.3, "y": 0.32},
      {"s": "Exp.", "x": 0.1807, "y": 0.5374}, {"s": "Exp.", "x": 0.1988, "y": 0.4736}, {"s": "Exp.", "x": 0.2173, "y": 0.4245}, {"s": "Exp.", "x": 0.2284, "y": 0.4218}, {"s": "Exp.", "x": 0.2317, "y": 0.4338}, {"s": "Exp.", "x": 0.2398, "y": 0.4311}, {"s": "Exp.", "x": 0.2509, "y": 0.4059}, {"s": "Exp.", "x": 0.2518, "y": 0.401}
    ]
  },
  "concat": [
    {
      "width": 221, "height": 176,
      "title": "(a)",
      "data": {"name": "a"},
      "encoding": {
        "x": {"field": "x", "type": "quantitative", "title": "x/c", "scale": {"domain": [0.05, 0.3]}, "axis": {"values": [0.05, 0.1, 0.15, 0.2, 0.25, 0.3], "format": ".2f"}},
        "y": {"field": "y", "type": "quantitative", "title": "P/P₀", "scale": {"domain": [0.1, 0.4]}, "axis": {"values": [0.1, 0.15, 0.2, 0.25, 0.3, 0.35, 0.4], "format": ".2f"}}
      },
      "layer": [
        {
          "transform": [{"filter": "datum.s !== 'Exp.'"}],
          "mark": {"type": "line", "interpolate": "monotone", "strokeWidth": 1.5, "clip": true},
          "encoding": {
            "color": {"field": "s", "type": "nominal", "title": null, "sort": null, "scale": {"domain": ["NBTF=1", "NBTF=1.235", "NBTF=1.03", "NBTF=1.045", "Exp."], "range": ["#444444", "#ff00ff", "#1f8f1f", "#0000ff", "#000000"]}},
            "strokeDash": {"field": "s", "type": "nominal", "title": null, "sort": null, "scale": {"domain": ["NBTF=1", "NBTF=1.235", "NBTF=1.03", "NBTF=1.045", "Exp."], "range": [[1, 0], [1, 0], [6, 3], [1, 0], [1, 0]]}}
          }
        },
        {
          "transform": [{"filter": "datum.s !== 'Exp.'"}],
          "mark": {"type": "point", "size": 9, "strokeWidth": 0.8, "opacity": 1, "clip": true},
          "encoding": {
            "shape": {"field": "s", "type": "nominal", "legend": null, "scale": {"domain": ["NBTF=1", "NBTF=1.235", "NBTF=1.03", "NBTF=1.045"], "range": ["circle", "square", "circle", "diamond"]}},
            "fill": {"field": "s", "type": "nominal", "legend": null, "scale": {"domain": ["NBTF=1", "NBTF=1.235", "NBTF=1.03", "NBTF=1.045"], "range": ["#ffffff", "#ff00ff", "#ffffff", "#0000ff"]}},
            "stroke": {"field": "s", "type": "nominal", "legend": null, "scale": {"domain": ["NBTF=1", "NBTF=1.235", "NBTF=1.03", "NBTF=1.045"], "range": ["#444444", "#ff00ff", "#1f8f1f", "#0000ff"]}}
          }
        },
        {
          "transform": [{"filter": "datum.s === 'Exp.'"}],
          "mark": {"type": "square", "size": 18, "color": "#000000", "opacity": 1}
        }
      ]
    },
    {
      "width": 221, "height": 176,
      "title": "(b)",
      "data": {"name": "b"},
      "encoding": {
        "x": {"field": "x", "type": "quantitative", "title": "x/c", "scale": {"domain": [0.05, 0.3]}, "axis": {"values": [0.05, 0.1, 0.15, 0.2, 0.25, 0.3], "format": ".2f"}},
        "y": {"field": "y", "type": "quantitative", "title": "P/P₀", "scale": {"domain": [0.2, 0.5]}, "axis": {"values": [0.2, 0.25, 0.3, 0.35, 0.4, 0.45, 0.5], "format": ".2f"}}
      },
      "layer": [
        {
          "transform": [{"filter": "datum.s !== 'Exp.'"}],
          "mark": {"type": "line", "interpolate": "monotone", "strokeWidth": 1.5, "clip": true},
          "encoding": {
            "color": {"field": "s", "type": "nominal", "title": null, "sort": null, "scale": {"domain": ["NBTF=1", "NBTF=1.2", "NBTF=1.1", "NBTF=1.06", "Exp."], "range": ["#444444", "#1f8f1f", "#ff00ff", "#0000ff", "#000000"]}},
            "strokeDash": {"field": "s", "type": "nominal", "title": null, "sort": null, "scale": {"domain": ["NBTF=1", "NBTF=1.2", "NBTF=1.1", "NBTF=1.06", "Exp."], "range": [[6, 2, 1, 2], [1, 0], [6, 3], [1, 0], [1, 0]]}}
          }
        },
        {
          "transform": [{"filter": "datum.s !== 'Exp.'"}],
          "mark": {"type": "point", "size": 9, "strokeWidth": 0.8, "opacity": 1, "clip": true},
          "encoding": {
            "shape": {"field": "s", "type": "nominal", "legend": null, "scale": {"domain": ["NBTF=1", "NBTF=1.2", "NBTF=1.1", "NBTF=1.06"], "range": ["circle", "square", "circle", "diamond"]}},
            "fill": {"field": "s", "type": "nominal", "legend": null, "scale": {"domain": ["NBTF=1", "NBTF=1.2", "NBTF=1.1", "NBTF=1.06"], "range": ["#ffffff", "#1f8f1f", "#ffffff", "#0000ff"]}},
            "stroke": {"field": "s", "type": "nominal", "legend": null, "scale": {"domain": ["NBTF=1", "NBTF=1.2", "NBTF=1.1", "NBTF=1.06"], "range": ["#444444", "#1f8f1f", "#ff00ff", "#0000ff"]}}
          }
        },
        {
          "transform": [{"filter": "datum.s === 'Exp.'"}],
          "mark": {"type": "square", "size": 18, "color": "#000000", "opacity": 1}
        }
      ]
    },
    {
      "width": 221, "height": 176,
      "title": "(c)",
      "data": {"name": "c"},
      "encoding": {
        "x": {"field": "x", "type": "quantitative", "title": "x/c", "scale": {"domain": [0.05, 0.4]}, "axis": {"values": [0.05, 0.1, 0.15, 0.2, 0.25, 0.3, 0.35, 0.4], "format": ".2f"}},
        "y": {"field": "y", "type": "quantitative", "title": "P/P₀", "scale": {"domain": [0.2, 0.8]}, "axis": {"values": [0.2, 0.3, 0.4, 0.5, 0.6, 0.7, 0.8], "format": ".1f"}}
      },
      "layer": [
        {
          "transform": [{"filter": "datum.s !== 'Exp.'"}],
          "mark": {"type": "line", "interpolate": "monotone", "strokeWidth": 1.5, "clip": true},
          "encoding": {
            "color": {"field": "s", "type": "nominal", "title": null, "sort": null, "scale": {"domain": ["NBTF=1", "NBTF=1.07", "NBTF=1.1", "NBTF=1.11", "Exp."], "range": ["#333333", "#1f8f1f", "#0000ff", "#ff2277", "#000000"]}},
            "strokeDash": {"field": "s", "type": "nominal", "title": null, "sort": null, "scale": {"domain": ["NBTF=1", "NBTF=1.07", "NBTF=1.1", "NBTF=1.11", "Exp."], "range": [[8, 3], [1, 0], [6, 3], [1, 0], [1, 0]]}}
          }
        },
        {
          "transform": [{"filter": {"field": "s", "oneOf": ["NBTF=1.07", "NBTF=1.1", "NBTF=1.11"]}}],
          "mark": {"type": "point", "size": 9, "strokeWidth": 0.8, "opacity": 1, "clip": true},
          "encoding": {
            "shape": {"field": "s", "type": "nominal", "legend": null, "scale": {"domain": ["NBTF=1.07", "NBTF=1.1", "NBTF=1.11"], "range": ["square", "circle", "circle"]}},
            "fill": {"field": "s", "type": "nominal", "legend": null, "scale": {"domain": ["NBTF=1.07", "NBTF=1.1", "NBTF=1.11"], "range": ["#1f8f1f", "#ffffff", "#ff2277"]}},
            "stroke": {"field": "s", "type": "nominal", "legend": null, "scale": {"domain": ["NBTF=1.07", "NBTF=1.1", "NBTF=1.11"], "range": ["#1f8f1f", "#0000ff", "#ff2277"]}}
          }
        },
        {
          "transform": [{"filter": "datum.s === 'Exp.'"}],
          "mark": {"type": "square", "size": 18, "color": "#000000", "opacity": 1}
        }
      ]
    },
    {
      "width": 221, "height": 176,
      "title": "(d)",
      "data": {"name": "d"},
      "encoding": {
        "x": {"field": "x", "type": "quantitative", "title": "x/c", "scale": {"domain": [0.05, 0.3]}, "axis": {"values": [0.05, 0.1, 0.15, 0.2, 0.25, 0.3], "format": ".2f"}},
        "y": {"field": "y", "type": "quantitative", "title": "P/P₀", "scale": {"domain": [0.2, 1.0]}, "axis": {"values": [0.2, 0.3, 0.4, 0.5, 0.6, 0.7, 0.8, 0.9, 1.0], "format": ".1f"}}
      },
      "layer": [
        {
          "transform": [{"filter": "datum.s !== 'Exp.'"}],
          "mark": {"type": "line", "interpolate": "monotone", "strokeWidth": 1.5, "clip": true},
          "encoding": {
            "color": {"field": "s", "type": "nominal", "title": null, "sort": null, "scale": {"domain": ["NBTF=1", "NBTF=1.11", "NBTF=1.2", "Exp."], "range": ["#444444", "#0000ff", "#ff00ff", "#000000"]}},
            "strokeDash": {"field": "s", "type": "nominal", "title": null, "sort": null, "scale": {"domain": ["NBTF=1", "NBTF=1.11", "NBTF=1.2", "Exp."], "range": [[1, 0], [1, 0], [1, 0], [1, 0]]}}
          }
        },
        {
          "transform": [{"filter": "datum.s === 'NBTF=1.11'"}],
          "mark": {"type": "square", "size": 9, "color": "#0000ff", "opacity": 1, "clip": true}
        },
        {
          "transform": [{"filter": "datum.s === 'Exp.'"}],
          "mark": {"type": "square", "size": 18, "color": "#000000", "opacity": 1}
        }
      ]
    },
    {
      "width": 221, "height": 176,
      "title": "(e)",
      "data": {"name": "e"},
      "encoding": {
        "x": {"field": "x", "type": "quantitative", "title": "x/c", "scale": {"domain": [0.05, 0.3]}, "axis": {"values": [0.05, 0.1, 0.15, 0.2, 0.25, 0.3], "format": ".2f"}},
        "y": {"field": "y", "type": "quantitative", "title": "P/P₀", "scale": {"domain": [0.2, 0.9]}, "axis": {"values": [0.2, 0.3, 0.4, 0.5, 0.6, 0.7, 0.8, 0.9], "format": ".1f"}}
      },
      "layer": [
        {
          "transform": [{"filter": "datum.s !== 'Exp.'"}],
          "mark": {"type": "line", "interpolate": "monotone", "strokeWidth": 1.5, "clip": true},
          "encoding": {
            "color": {"field": "s", "type": "nominal", "title": null, "sort": null, "scale": {"domain": ["NBTF=1", "NBTF=1.05", "N=1.04", "Exp."], "range": ["#444444", "#0000ff", "#ff33ff", "#000000"]}},
            "strokeDash": {"field": "s", "type": "nominal", "title": null, "sort": null, "scale": {"domain": ["NBTF=1", "NBTF=1.05", "N=1.04", "Exp."], "range": [[1, 0], [1, 0], [1, 0], [1, 0]]}}
          }
        },
        {
          "transform": [{"filter": "datum.s !== 'Exp.'"}],
          "mark": {"type": "point", "size": 9, "strokeWidth": 0.8, "opacity": 1, "clip": true},
          "encoding": {
            "shape": {"field": "s", "type": "nominal", "legend": null, "scale": {"domain": ["NBTF=1", "NBTF=1.05", "N=1.04"], "range": ["square", "diamond", "circle"]}},
            "fill": {"field": "s", "type": "nominal", "legend": null, "scale": {"domain": ["NBTF=1", "NBTF=1.05", "N=1.04"], "range": ["#888888", "#0000ff", "#ffffff"]}},
            "stroke": {"field": "s", "type": "nominal", "legend": null, "scale": {"domain": ["NBTF=1", "NBTF=1.05", "N=1.04"], "range": ["#444444", "#0000ff", "#ff33ff"]}}
          }
        },
        {
          "transform": [{"filter": "datum.s === 'Exp.'"}],
          "mark": {"type": "square", "size": 18, "color": "#000000", "opacity": 1}
        }
      ]
    },
    {
      "width": 221, "height": 176,
      "title": "(f)",
      "data": {"name": "f"},
      "encoding": {
        "x": {"field": "x", "type": "quantitative", "title": "x/c", "scale": {"domain": [0.05, 0.3]}, "axis": {"values": [0.05, 0.1, 0.15, 0.2, 0.25, 0.3], "format": ".2f"}},
        "y": {"field": "y", "type": "quantitative", "title": "P/P₀", "scale": {"domain": [0.2, 0.9]}, "axis": {"values": [0.2, 0.3, 0.4, 0.5, 0.6, 0.7, 0.8, 0.9], "format": ".1f"}}
      },
      "layer": [
        {
          "transform": [{"filter": "datum.s !== 'Exp.'"}],
          "mark": {"type": "line", "interpolate": "monotone", "strokeWidth": 1.5, "clip": true},
          "encoding": {
            "color": {"field": "s", "type": "nominal", "title": null, "sort": null, "scale": {"domain": ["NBTF=1", "NBTF=1.05", "NBTF=1.04", "Exp."], "range": ["#444444", "#0000ff", "#ff00ff", "#000000"]}},
            "strokeDash": {"field": "s", "type": "nominal", "title": null, "sort": null, "scale": {"domain": ["NBTF=1", "NBTF=1.05", "NBTF=1.04", "Exp."], "range": [[6, 2], [6, 2], [1, 0], [1, 0]]}}
          }
        },
        {
          "transform": [{"filter": "datum.s !== 'Exp.'"}],
          "mark": {"type": "point", "size": 9, "strokeWidth": 0.8, "opacity": 1, "clip": true},
          "encoding": {
            "shape": {"field": "s", "type": "nominal", "legend": null, "scale": {"domain": ["NBTF=1", "NBTF=1.05", "NBTF=1.04"], "range": ["circle", "circle", "square"]}},
            "fill": {"field": "s", "type": "nominal", "legend": null, "scale": {"domain": ["NBTF=1", "NBTF=1.05", "NBTF=1.04"], "range": ["#ffffff", "#ffffff", "#ff00ff"]}},
            "stroke": {"field": "s", "type": "nominal", "legend": null, "scale": {"domain": ["NBTF=1", "NBTF=1.05", "NBTF=1.04"], "range": ["#444444", "#0000ff", "#ff00ff"]}}
          }
        },
        {
          "transform": [{"filter": "datum.s === 'Exp.'"}],
          "mark": {"type": "square", "size": 18, "color": "#000000", "opacity": 1}
        }
      ]
    }
  ],
  "resolve": {
    "scale": {"color": "independent", "strokeDash": "independent", "shape": "independent", "fill": "independent", "stroke": "independent"},
    "legend": {"color": "independent", "strokeDash": "independent"}
  },
  "config": {
    "font": "Liberation Serif",
    "view": {"stroke": "#333333", "strokeWidth": 1},
    "axis": {
      "grid": false, "domainColor": "#333333", "tickColor": "#333333", "tickSize": -4, "labelPadding": 7,
      "labelFont": "Liberation Serif", "labelFontSize": 10, "labelColor": "#111111", "labelFlush": false, "labelOverlap": false,
      "titleFont": "Liberation Serif", "titleFontSize": 14, "titleFontStyle": "italic", "titleFontWeight": "normal", "titleColor": "#111111"
    },
    "axisX": {"titlePadding": 1, "labelPadding": 10},
    "axisY": {"titlePadding": 3},
    "title": {"orient": "bottom", "font": "Liberation Serif", "fontSize": 12, "fontWeight": "bold", "color": "#111111", "offset": 8},
    "legend": {
      "orient": "top-right", "offset": 2, "padding": 3, "strokeColor": "#777777", "fillColor": "#ffffff", "cornerRadius": 0,
      "labelFont": "Liberation Serif", "labelFontSize": 7, "labelColor": "#111111", "labelOffset": 9, "labelLimit": 80,
      "labelFontStyle": {"expr": "datum.label === 'Exp.' ? 'normal' : 'italic'"},
      "symbolType": {"expr": "datum.label === 'Exp.' ? 'M-0.5,-0.5h1v1h-1z' : 'M-2,0H2'"},
      "symbolFillColor": {"expr": "datum.label === 'Exp.' ? '#000000' : 'transparent'"},
      "symbolOffset": 4,
      "symbolSize": 56, "symbolStrokeWidth": 1.5, "rowPadding": 1
    }
  }
}
